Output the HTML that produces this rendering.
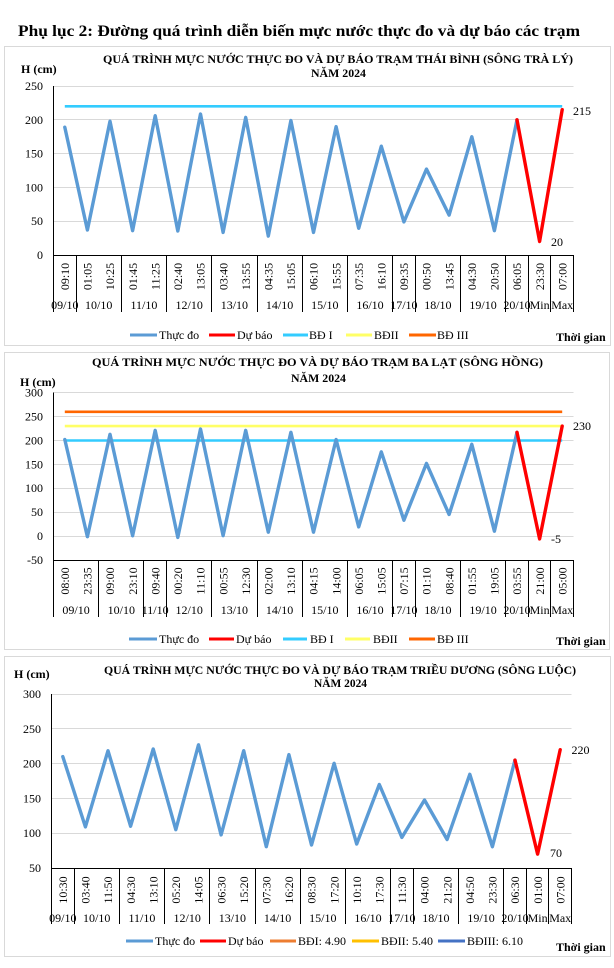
<!DOCTYPE html>
<html><head><meta charset="utf-8"><style>
html,body{margin:0;padding:0;background:#fff;}
svg{display:block;font-family:"Liberation Serif","DejaVu Serif",serif;}
.t{font-size:12px;fill:#000;}
.b{font-weight:bold;}
.g{stroke:#D9D9D9;stroke-width:1;fill:none;}
.k{stroke:#000;stroke-width:1;fill:none;}
.obs{stroke:#5B9BD5;stroke-width:3.4;fill:none;stroke-linejoin:round;stroke-linecap:round;}
.fc{stroke:#FF0000;stroke-width:3.4;fill:none;stroke-linejoin:round;stroke-linecap:round;}
</style></head><body>
<svg width="614" height="968" viewBox="0 0 614 968" xmlns="http://www.w3.org/2000/svg">
<rect width="614" height="968" fill="#fff"/>
<text x="18" y="36" class="b" font-size="16" textLength="562" lengthAdjust="spacingAndGlyphs">Phụ lục 2: Đường quá trình diễn biến mực nước thực đo và dự báo các trạm</text>

<!-- ================= CHART 1 ================= -->
<rect x="4.5" y="46.5" width="606" height="299" fill="#fff" stroke="#D9D9D9"/>
<text x="103" y="63" class="t b" textLength="470" lengthAdjust="spacingAndGlyphs">QUÁ TRÌNH MỰC NƯỚC THỰC ĐO VÀ DỰ BÁO TRẠM THÁI BÌNH (SÔNG TRÀ LÝ)</text>
<text x="311" y="77" class="t b" textLength="55" lengthAdjust="spacingAndGlyphs">NĂM 2024</text>
<text x="21" y="73" class="t b">H (cm)</text>
<g class="g">
<line x1="53.5" y1="86.5" x2="573.5" y2="86.5"/>
<line x1="53.5" y1="119.5" x2="573.5" y2="119.5"/>
<line x1="53.5" y1="153.5" x2="573.5" y2="153.5"/>
<line x1="53.5" y1="187.5" x2="573.5" y2="187.5"/>
<line x1="53.5" y1="221.5" x2="573.5" y2="221.5"/>
</g>
<g class="t" text-anchor="end">
<text x="43" y="90">250</text><text x="43" y="124">200</text><text x="43" y="157.6">150</text>
<text x="43" y="191.4">100</text><text x="43" y="225.2">50</text><text x="43" y="259">0</text>
</g>
<line x1="64.8" y1="106.3" x2="562.2" y2="106.3" stroke="#33CCFF" stroke-width="2.6"/>
<polyline class="obs" points="64.8,127.2 87.4,230.0 110.0,121.2 132.6,230.7 155.2,115.7 177.8,231.0 200.5,114.0 223.1,232.4 245.7,117.4 268.3,236.1 290.9,120.5 313.5,232.4 336.1,126.6 358.7,228.3 381.3,146.2 403.9,221.9 426.5,169.1 449.1,215.1 471.8,136.7 494.4,230.7 517.0,119.8"/>
<polyline class="fc" points="517.0,119.8 539.6,241.5 562.2,109.7"/>
<text x="573" y="115" class="t">215</text>
<text x="551" y="246" class="t">20</text>
<g class="k">
<line x1="53.5" y1="86" x2="53.5" y2="312"/>
<line x1="53.5" y1="255.5" x2="573.5" y2="255.5"/>
<line x1="76.5" y1="255" x2="76.5" y2="312"/>
<line x1="121.5" y1="255" x2="121.5" y2="312"/>
<line x1="166.5" y1="255" x2="166.5" y2="312"/>
<line x1="211.5" y1="255" x2="211.5" y2="312"/>
<line x1="257.5" y1="255" x2="257.5" y2="312"/>
<line x1="302.5" y1="255" x2="302.5" y2="312"/>
<line x1="347.5" y1="255" x2="347.5" y2="312"/>
<line x1="392.5" y1="255" x2="392.5" y2="312"/>
<line x1="415.5" y1="255" x2="415.5" y2="312"/>
<line x1="460.5" y1="255" x2="460.5" y2="312"/>
<line x1="505.5" y1="255" x2="505.5" y2="312"/>
<line x1="528.5" y1="255" x2="528.5" y2="312"/>
<line x1="550.5" y1="255" x2="550.5" y2="312"/>
<line x1="573.5" y1="255" x2="573.5" y2="312"/>
</g>
<g class="t" text-anchor="middle">
<text transform="translate(69,276.5) rotate(-90)">09:10</text>
<text transform="translate(91.6,276.5) rotate(-90)">01:05</text>
<text transform="translate(114.2,276.5) rotate(-90)">10:25</text>
<text transform="translate(136.8,276.5) rotate(-90)">01:45</text>
<text transform="translate(159.4,276.5) rotate(-90)">11:25</text>
<text transform="translate(182,276.5) rotate(-90)">02:40</text>
<text transform="translate(204.7,276.5) rotate(-90)">13:05</text>
<text transform="translate(227.3,276.5) rotate(-90)">03:40</text>
<text transform="translate(249.9,276.5) rotate(-90)">13:55</text>
<text transform="translate(272.5,276.5) rotate(-90)">04:35</text>
<text transform="translate(295.1,276.5) rotate(-90)">15:05</text>
<text transform="translate(317.7,276.5) rotate(-90)">06:10</text>
<text transform="translate(340.3,276.5) rotate(-90)">15:55</text>
<text transform="translate(362.9,276.5) rotate(-90)">07:35</text>
<text transform="translate(385.5,276.5) rotate(-90)">16:10</text>
<text transform="translate(408.1,276.5) rotate(-90)">09:35</text>
<text transform="translate(430.7,276.5) rotate(-90)">00:50</text>
<text transform="translate(453.3,276.5) rotate(-90)">13:45</text>
<text transform="translate(476,276.5) rotate(-90)">04:30</text>
<text transform="translate(498.6,276.5) rotate(-90)">20:50</text>
<text transform="translate(521.2,276.5) rotate(-90)">06:05</text>
<text transform="translate(543.8,276.5) rotate(-90)">23:30</text>
<text transform="translate(566.4,276.5) rotate(-90)">07:00</text>
</g>
<g class="t" text-anchor="middle">
<text x="64.8" y="309">09/10</text><text x="98.7" y="309">10/10</text><text x="143.9" y="309">11/10</text>
<text x="189.2" y="309">12/10</text><text x="234.4" y="309">13/10</text><text x="279.6" y="309">14/10</text>
<text x="324.8" y="309">15/10</text><text x="370" y="309">16/10</text><text x="403.9" y="309">17/10</text>
<text x="437.9" y="309">18/10</text><text x="483.1" y="309">19/10</text><text x="517" y="309">20/10</text>
<text x="539.6" y="309">Min</text><text x="562.2" y="309">Max</text>
</g>
<g>
<line x1="130" y1="335" x2="157" y2="335" stroke="#5B9BD5" stroke-width="3"/>
<text x="159" y="339" class="t">Thực đo</text>
<line x1="209" y1="335" x2="235" y2="335" stroke="#FF0000" stroke-width="3"/>
<text x="237" y="339" class="t">Dự báo</text>
<line x1="283" y1="335" x2="308" y2="335" stroke="#33CCFF" stroke-width="3"/>
<text x="309" y="339" class="t">BĐ I</text>
<line x1="346" y1="335" x2="372" y2="335" stroke="#FFFF66" stroke-width="3"/>
<text x="374" y="339" class="t">BĐII</text>
<line x1="409" y1="335" x2="436" y2="335" stroke="#FF6600" stroke-width="3"/>
<text x="437" y="339" class="t">BĐ III</text>
<text x="556" y="341" class="t b">Thời gian</text>
</g>

<!-- ================= CHART 2 ================= -->
<rect x="4.5" y="352.5" width="605" height="297" fill="#fff" stroke="#D9D9D9"/>
<text x="92" y="366" class="t b" textLength="451" lengthAdjust="spacingAndGlyphs">QUÁ TRÌNH MỰC NƯỚC THỰC ĐO VÀ DỰ BÁO TRẠM BA LẠT (SÔNG HỒNG)</text>
<text x="291" y="382" class="t b" textLength="55" lengthAdjust="spacingAndGlyphs">NĂM 2024</text>
<text x="20" y="386" class="t b">H (cm)</text>
<g class="g">
<line x1="53.5" y1="392.5" x2="573.5" y2="392.5"/>
<line x1="53.5" y1="416.5" x2="573.5" y2="416.5"/>
<line x1="53.5" y1="440.5" x2="573.5" y2="440.5"/>
<line x1="53.5" y1="464.5" x2="573.5" y2="464.5"/>
<line x1="53.5" y1="488.5" x2="573.5" y2="488.5"/>
<line x1="53.5" y1="512.5" x2="573.5" y2="512.5"/>
<line x1="53.5" y1="536.5" x2="573.5" y2="536.5"/>
</g>
<g class="t" text-anchor="end">
<text x="43" y="396.7">300</text><text x="43" y="420.6">250</text><text x="43" y="444.5">200</text>
<text x="43" y="468.3">150</text><text x="43" y="492.2">100</text><text x="43" y="516.1">50</text>
<text x="43" y="540">0</text><text x="43" y="564">-50</text>
</g>
<line x1="64.8" y1="411.8" x2="562.2" y2="411.8" stroke="#FF6600" stroke-width="2.6"/>
<line x1="64.8" y1="426.1" x2="562.2" y2="426.1" stroke="#FFFF66" stroke-width="2.6"/>
<line x1="64.8" y1="440.5" x2="562.2" y2="440.5" stroke="#33CCFF" stroke-width="2.6"/>
<polyline class="obs" points="64.8,439.5 87.4,536.7 110.0,434.3 132.6,535.8 155.2,430.4 177.8,537.4 200.5,429.0 223.1,535.7 245.7,430.4 268.3,532.2 290.9,432.3 313.5,532.2 336.1,439.5 358.7,526.9 381.3,451.9 403.9,520.2 426.5,463.4 449.1,514.5 471.8,444.3 494.4,531.2 517.0,432.3"/>
<polyline class="fc" points="517.0,432.3 539.6,538.9 562.2,426.1"/>
<text x="573" y="430" class="t">230</text>
<text x="551" y="543" class="t">-5</text>
<g class="k">
<line x1="53.5" y1="392.5" x2="53.5" y2="617"/>
<line x1="53.5" y1="560.5" x2="573.5" y2="560.5"/>
<line x1="98.5" y1="560" x2="98.5" y2="617"/>
<line x1="143.5" y1="560" x2="143.5" y2="617"/>
<line x1="166.5" y1="560" x2="166.5" y2="617"/>
<line x1="211.5" y1="560" x2="211.5" y2="617"/>
<line x1="257.5" y1="560" x2="257.5" y2="617"/>
<line x1="302.5" y1="560" x2="302.5" y2="617"/>
<line x1="347.5" y1="560" x2="347.5" y2="617"/>
<line x1="392.5" y1="560" x2="392.5" y2="617"/>
<line x1="415.5" y1="560" x2="415.5" y2="617"/>
<line x1="460.5" y1="560" x2="460.5" y2="617"/>
<line x1="505.5" y1="560" x2="505.5" y2="617"/>
<line x1="528.5" y1="560" x2="528.5" y2="617"/>
<line x1="550.5" y1="560" x2="550.5" y2="617"/>
<line x1="573.5" y1="560" x2="573.5" y2="617"/>
</g>
<g class="t" text-anchor="middle">
<text transform="translate(69,581) rotate(-90)">08:00</text>
<text transform="translate(91.6,581) rotate(-90)">23:35</text>
<text transform="translate(114.2,581) rotate(-90)">09:00</text>
<text transform="translate(136.8,581) rotate(-90)">23:10</text>
<text transform="translate(159.4,581) rotate(-90)">09:40</text>
<text transform="translate(182,581) rotate(-90)">00:20</text>
<text transform="translate(204.7,581) rotate(-90)">11:10</text>
<text transform="translate(227.3,581) rotate(-90)">00:55</text>
<text transform="translate(249.9,581) rotate(-90)">12:30</text>
<text transform="translate(272.5,581) rotate(-90)">02:00</text>
<text transform="translate(295.1,581) rotate(-90)">13:10</text>
<text transform="translate(317.7,581) rotate(-90)">04:15</text>
<text transform="translate(340.3,581) rotate(-90)">14:00</text>
<text transform="translate(362.9,581) rotate(-90)">06:05</text>
<text transform="translate(385.5,581) rotate(-90)">15:05</text>
<text transform="translate(408.1,581) rotate(-90)">07:15</text>
<text transform="translate(430.7,581) rotate(-90)">01:10</text>
<text transform="translate(453.3,581) rotate(-90)">08:40</text>
<text transform="translate(476,581) rotate(-90)">01:55</text>
<text transform="translate(498.6,581) rotate(-90)">19:05</text>
<text transform="translate(521.2,581) rotate(-90)">03:55</text>
<text transform="translate(543.8,581) rotate(-90)">21:00</text>
<text transform="translate(566.4,581) rotate(-90)">05:00</text>
</g>
<g class="t" text-anchor="middle">
<text x="76.1" y="614">09/10</text><text x="121.3" y="614">10/10</text><text x="155.2" y="614">11/10</text>
<text x="189.2" y="614">12/10</text><text x="234.4" y="614">13/10</text><text x="279.6" y="614">14/10</text>
<text x="324.8" y="614">15/10</text><text x="370" y="614">16/10</text><text x="403.9" y="614">17/10</text>
<text x="437.9" y="614">18/10</text><text x="483.1" y="614">19/10</text><text x="517" y="614">20/10</text>
<text x="539.6" y="614">Min</text><text x="562.2" y="614">Max</text>
</g>
<g>
<line x1="129" y1="639" x2="157" y2="639" stroke="#5B9BD5" stroke-width="3"/>
<text x="159" y="643" class="t">Thực đo</text>
<line x1="209" y1="639" x2="234" y2="639" stroke="#FF0000" stroke-width="3"/>
<text x="236" y="643" class="t">Dự báo</text>
<line x1="283" y1="639" x2="307" y2="639" stroke="#33CCFF" stroke-width="3"/>
<text x="310" y="643" class="t">BĐ I</text>
<line x1="345" y1="639" x2="370" y2="639" stroke="#FFFF66" stroke-width="3"/>
<text x="373" y="643" class="t">BĐII</text>
<line x1="409" y1="639" x2="435" y2="639" stroke="#FF6600" stroke-width="3"/>
<text x="437" y="643" class="t">BĐ III</text>
<text x="556" y="645" class="t b">Thời gian</text>
</g>

<!-- ================= CHART 3 ================= -->
<rect x="4.5" y="656.5" width="606" height="300" fill="#fff" stroke="#D9D9D9"/>
<text x="104" y="674" class="t b" textLength="472" lengthAdjust="spacingAndGlyphs">QUÁ TRÌNH MỰC NƯỚC THỰC ĐO VÀ DỰ BÁO TRẠM TRIỀU DƯƠNG (SÔNG LUỘC)</text>
<text x="314" y="687" class="t b" textLength="53" lengthAdjust="spacingAndGlyphs">NĂM 2024</text>
<text x="14" y="678" class="t b">H (cm)</text>
<g class="g">
<line x1="51.5" y1="694.5" x2="571.5" y2="694.5"/>
<line x1="51.5" y1="728.5" x2="571.5" y2="728.5"/>
<line x1="51.5" y1="763.5" x2="571.5" y2="763.5"/>
<line x1="51.5" y1="798.5" x2="571.5" y2="798.5"/>
<line x1="51.5" y1="833.5" x2="571.5" y2="833.5"/>
</g>
<g class="t" text-anchor="end">
<text x="41" y="698">300</text><text x="41" y="732.8">250</text><text x="41" y="767.6">200</text>
<text x="41" y="802.4">150</text><text x="41" y="837.2">100</text><text x="41" y="872">50</text>
</g>
<polyline class="obs" points="62.8,756.6 85.4,826.9 108.0,750.7 130.6,826.2 153.2,749.0 175.8,829.7 198.5,744.8 221.1,834.9 243.7,750.7 266.3,846.7 288.9,754.6 311.5,845.0 334.1,763.3 356.7,844.0 379.3,784.5 401.9,837.4 424.5,800.0 447.1,839.5 469.8,774.3 492.4,846.7 515.0,760.1"/>
<polyline class="fc" points="515.0,760.1 537.6,854.1 560.2,749.7"/>
<text x="571.5" y="754" class="t">220</text>
<text x="550" y="857" class="t">70</text>
<g class="k">
<line x1="51.5" y1="694" x2="51.5" y2="924"/>
<line x1="51.5" y1="868.5" x2="571.5" y2="868.5"/>
<line x1="74.5" y1="868" x2="74.5" y2="924"/>
<line x1="119.5" y1="868" x2="119.5" y2="924"/>
<line x1="164.5" y1="868" x2="164.5" y2="924"/>
<line x1="209.5" y1="868" x2="209.5" y2="924"/>
<line x1="255.5" y1="868" x2="255.5" y2="924"/>
<line x1="300.5" y1="868" x2="300.5" y2="924"/>
<line x1="345.5" y1="868" x2="345.5" y2="924"/>
<line x1="390.5" y1="868" x2="390.5" y2="924"/>
<line x1="413.5" y1="868" x2="413.5" y2="924"/>
<line x1="458.5" y1="868" x2="458.5" y2="924"/>
<line x1="503.5" y1="868" x2="503.5" y2="924"/>
<line x1="526.5" y1="868" x2="526.5" y2="924"/>
<line x1="548.5" y1="868" x2="548.5" y2="924"/>
<line x1="571.5" y1="868" x2="571.5" y2="924"/>
</g>
<g class="t" text-anchor="middle">
<text transform="translate(67,890) rotate(-90)">10:30</text>
<text transform="translate(89.6,890) rotate(-90)">03:40</text>
<text transform="translate(112.2,890) rotate(-90)">11:50</text>
<text transform="translate(134.8,890) rotate(-90)">04:30</text>
<text transform="translate(157.4,890) rotate(-90)">13:10</text>
<text transform="translate(180,890) rotate(-90)">05:20</text>
<text transform="translate(202.7,890) rotate(-90)">14:05</text>
<text transform="translate(225.3,890) rotate(-90)">06:30</text>
<text transform="translate(247.9,890) rotate(-90)">15:20</text>
<text transform="translate(270.5,890) rotate(-90)">07:30</text>
<text transform="translate(293.1,890) rotate(-90)">16:20</text>
<text transform="translate(315.7,890) rotate(-90)">08:30</text>
<text transform="translate(338.3,890) rotate(-90)">17:20</text>
<text transform="translate(360.9,890) rotate(-90)">10:10</text>
<text transform="translate(383.5,890) rotate(-90)">17:30</text>
<text transform="translate(406.1,890) rotate(-90)">11:30</text>
<text transform="translate(428.7,890) rotate(-90)">04:00</text>
<text transform="translate(451.3,890) rotate(-90)">21:20</text>
<text transform="translate(474,890) rotate(-90)">04:50</text>
<text transform="translate(496.6,890) rotate(-90)">23:30</text>
<text transform="translate(519.2,890) rotate(-90)">06:30</text>
<text transform="translate(541.8,890) rotate(-90)">01:00</text>
<text transform="translate(564.4,890) rotate(-90)">07:00</text>
</g>
<g class="t" text-anchor="middle">
<text x="62.8" y="922">09/10</text><text x="96.7" y="922">10/10</text><text x="141.9" y="922">11/10</text>
<text x="187.2" y="922">12/10</text><text x="232.4" y="922">13/10</text><text x="277.6" y="922">14/10</text>
<text x="322.8" y="922">15/10</text><text x="368" y="922">16/10</text><text x="401.9" y="922">17/10</text>
<text x="435.9" y="922">18/10</text><text x="481.1" y="922">19/10</text><text x="515" y="922">20/10</text>
<text x="537.6" y="922">Min</text><text x="560.2" y="922">Max</text>
</g>
<g>
<line x1="126" y1="941" x2="153" y2="941" stroke="#5B9BD5" stroke-width="3"/>
<text x="155" y="945" class="t">Thực đo</text>
<line x1="200" y1="941" x2="226" y2="941" stroke="#FF0000" stroke-width="3"/>
<text x="228" y="945" class="t">Dự báo</text>
<line x1="270" y1="941" x2="296" y2="941" stroke="#ED7D31" stroke-width="3"/>
<text x="298" y="945" class="t">BĐI: 4.90</text>
<line x1="352" y1="941" x2="379" y2="941" stroke="#FFC000" stroke-width="3"/>
<text x="381" y="945" class="t">BĐII: 5.40</text>
<line x1="438" y1="941" x2="465" y2="941" stroke="#4472C4" stroke-width="3"/>
<text x="467" y="945" class="t">BĐIII: 6.10</text>
<text x="556" y="951" class="t b">Thời gian</text>
</g>
</svg>
</body></html>
